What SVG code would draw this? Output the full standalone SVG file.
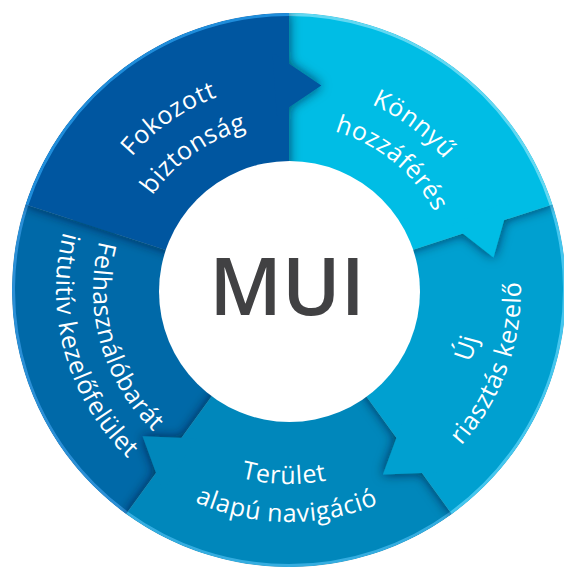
<svg xmlns="http://www.w3.org/2000/svg" xmlns:xlink="http://www.w3.org/1999/xlink" width="564" height="567" viewBox="0 0 564 567">
<style>
.lbl { font-family: "Open Sans", "Liberation Sans", sans-serif; font-size: 25px; fill: #ffffff; letter-spacing: 0.6px; }
.rim { fill: none; stroke-width: 3; }
.center-text { font-family: "Open Sans", "Liberation Sans", sans-serif; font-size: 79px; font-weight: 600; fill: #414143; }
</style>
<defs>
  <clipPath id="ring"><circle cx="289" cy="290" r="277"/></clipPath>
  <filter id="sh" x="-30%" y="-30%" width="160%" height="160%">
    <feGaussianBlur in="SourceAlpha" stdDeviation="6" result="b"/>
    <feFlood flood-color="#00142a" flood-opacity="0.7"/>
    <feComposite in2="b" operator="in" result="s"/>
    <feMerge><feMergeNode in="s"/><feMergeNode in="SourceGraphic"/></feMerge>
  </filter>
  <path id="p1" d="M 83 290 A 206 206 0 0 1 359.46 96.42"/>
  <path id="p2" d="M 123 290 A 166 166 0 0 1 345.78 134.01"/>
  <path id="p3" d="M 226.27 96.93 A 203 203 0 0 1 491.88 297.08"/>
  <path id="p4" d="M 243.52 131.39 A 165 165 0 0 1 453.60 301.51"/>
  <path id="p5" d="M 346.01 476.48 A 195 195 0 0 0 444.73 172.65"/>
  <path id="p6" d="M 349.05 514.10 A 232 232 0 0 0 479.04 156.93"/>
  <path id="p7" d="M 127.23 397.08 A 194 194 0 0 0 444.95 405.40"/>
  <path id="p8" d="M 97.57 421.07 A 232 232 0 0 0 477.64 425.05"/>
  <path id="p9" d="M 136.68 166.65 A 196 196 0 0 0 225.19 475.32"/>
  <path id="p10" d="M 107.92 143.37 A 233 233 0 0 0 213.14 510.31"/>
</defs>
<rect width="564" height="567" fill="#ffffff"/>
<g clip-path="url(#ring)">
  <g id="felhasznalobarat">
    <g filter="url(#sh)" fill="#0469a8">
      <path d="M 126.18 514.10 A 277 277 0 0 1 25.56 204.40 L 174.87 252.92 A 120 120 0 0 0 218.47 387.08 Z"/>
      <path d="M 119.20 247.66 L 104.56 196.02 L 58.07 232.42 Z"/>
    </g>
    <path class="rim" stroke="#2b8fd6" d="M 127.06 512.88 A 275.5 275.5 0 0 1 26.98 204.86"/>
    <text class="lbl"><textPath href="#p9" startOffset="50%" text-anchor="middle">Felhasználóbarát</textPath></text>
    <text class="lbl"><textPath href="#p10" startOffset="50%" text-anchor="middle">intuitív kezelőfelület</textPath></text>
  </g>
  <g id="terulet">
    <g filter="url(#sh)" fill="#0487bb">
      <path d="M 451.82 514.10 A 277 277 0 0 1 126.18 514.10 L 218.47 387.08 A 120 120 0 0 0 359.53 387.08 Z"/>
      <path d="M 196.26 438.41 L 142.63 436.37 L 162.88 491.84 Z"/>
    </g>
    <path class="rim" stroke="#35ade0" d="M 450.94 512.88 A 275.5 275.5 0 0 1 127.06 512.88"/>
    <text class="lbl"><textPath href="#p7" startOffset="50%" text-anchor="middle">Terület</textPath></text>
    <text class="lbl"><textPath href="#p8" startOffset="50%" text-anchor="middle">alapú navigáció</textPath></text>
  </g>
  <g id="uj">
    <g filter="url(#sh)" fill="#03a0d0">
      <path d="M 552.44 204.40 A 277 277 0 0 1 451.82 514.10 L 359.53 387.08 A 120 120 0 0 0 403.13 252.92 Z"/>
      <path d="M 401.49 424.06 L 382.98 474.44 L 441.98 472.32 Z"/>
    </g>
    <path class="rim" stroke="#45c6ee" d="M 551.02 204.86 A 275.5 275.5 0 0 1 450.94 512.88"/>
    <text class="lbl"><textPath href="#p5" startOffset="50%" text-anchor="middle">Új</textPath></text>
    <text class="lbl"><textPath href="#p6" startOffset="50%" text-anchor="middle">riasztás kezelő</textPath></text>
  </g>
  <g id="konnyu">
    <g filter="url(#sh)" fill="#02bde5">
      <path d="M 289 13 A 277 277 0 0 1 552.44 204.40 L 403.13 252.92 A 120 120 0 0 0 289 170 Z"/>
      <path d="M 451.26 224.44 L 493.45 257.62 L 509.67 200.84 Z"/>
    </g>
    <path class="rim" stroke="#62d8f2" d="M 289 14.5 A 275.5 275.5 0 0 1 551.02 204.86"/>
    <text class="lbl"><textPath href="#p3" startOffset="50%" text-anchor="middle">Könnyű</textPath></text>
    <text class="lbl"><textPath href="#p4" startOffset="50%" text-anchor="middle">hozzáférés</textPath></text>
  </g>
  <g id="fokozott">
    <g filter="url(#sh)" fill="#0656a0">
      <path d="M 25.56 204.40 A 277 277 0 0 1 289 13 L 289 170 A 120 120 0 0 0 174.87 252.92 Z"/>
      <path d="M 276.79 115.43 L 321.38 85.55 L 272.40 52.58 Z"/>
    </g>
    <path class="rim" stroke="#1f8ddb" d="M 26.98 204.86 A 275.5 275.5 0 0 1 289 14.5"/>
    <text class="lbl"><textPath href="#p1" startOffset="50%" text-anchor="middle">Fokozott</textPath></text>
    <text class="lbl"><textPath href="#p2" startOffset="50%" text-anchor="middle">biztonság</textPath></text>
  </g>
</g>
<g id="mui">
  <circle cx="289.5" cy="291.5" r="130.5" fill="#ffffff"/>
  <text class="center-text" x="287" y="315" text-anchor="middle">MUI</text>
</g>
</svg>
